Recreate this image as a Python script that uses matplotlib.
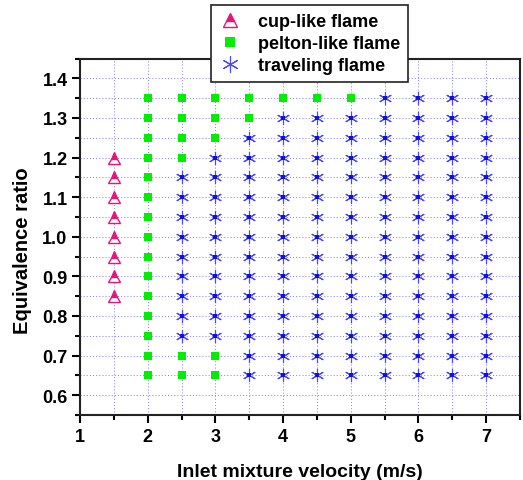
import matplotlib
matplotlib.use("Agg")
import matplotlib.pyplot as plt
from matplotlib.ticker import MultipleLocator

plt.rcParams['font.family'] = ['Liberation Sans', 'DejaVu Sans']
plt.rcParams['font.weight'] = 'bold'

# cup-like flame
cup_x = [1.5, 1.5, 1.5, 1.5, 1.5, 1.5, 1.5, 1.5]
cup_y = [0.85, 0.90, 0.95, 1.00, 1.05, 1.10, 1.15, 1.20]

# pelton-like flame (by column)
pelton_cols = {
    2.0: [0.65, 0.70, 0.75, 0.80, 0.85, 0.90, 0.95, 1.00, 1.05, 1.10, 1.15, 1.20, 1.25, 1.30, 1.35],
    2.5: [0.65, 0.70, 1.20, 1.25, 1.30, 1.35],
    3.0: [0.65, 0.70, 1.25, 1.30, 1.35],
    3.5: [1.30, 1.35],
    4.0: [1.35],
    4.5: [1.35],
    5.0: [1.35],
}

# traveling flame (by column)
travel_cols = {
    2.5: [0.75, 0.80, 0.85, 0.90, 0.95, 1.00, 1.05, 1.10, 1.15],
    3.0: [0.75, 0.80, 0.85, 0.90, 0.95, 1.00, 1.05, 1.10, 1.15, 1.20],
    3.5: [0.65, 0.70, 0.75, 0.80, 0.85, 0.90, 0.95, 1.00, 1.05, 1.10, 1.15, 1.20, 1.25],
    4.0: [0.65, 0.70, 0.75, 0.80, 0.85, 0.90, 0.95, 1.00, 1.05, 1.10, 1.15, 1.20, 1.25, 1.30],
    4.5: [0.65, 0.70, 0.75, 0.80, 0.85, 0.90, 0.95, 1.00, 1.05, 1.10, 1.15, 1.20, 1.25, 1.30],
    5.0: [0.65, 0.70, 0.75, 0.80, 0.85, 0.90, 0.95, 1.00, 1.05, 1.10, 1.15, 1.20, 1.25, 1.30],
    5.5: [0.65, 0.70, 0.75, 0.80, 0.85, 0.90, 0.95, 1.00, 1.05, 1.10, 1.15, 1.20, 1.25, 1.30, 1.35],
    6.0: [0.65, 0.70, 0.75, 0.80, 0.85, 0.90, 0.95, 1.00, 1.05, 1.10, 1.15, 1.20, 1.25, 1.30, 1.35],
    6.5: [0.65, 0.70, 0.75, 0.80, 0.85, 0.90, 0.95, 1.00, 1.05, 1.10, 1.15, 1.20, 1.25, 1.30, 1.35],
    7.0: [0.65, 0.70, 0.75, 0.80, 0.85, 0.90, 0.95, 1.00, 1.05, 1.10, 1.15, 1.20, 1.25, 1.30, 1.35],
}

labels = ['cup-like flame', 'pelton-like flame', 'traveling flame']

pel_x = [x for x, ys in pelton_cols.items() for _ in ys]
pel_y = [y for ys in pelton_cols.values() for y in ys]
tr_x = [x for x, ys in travel_cols.items() for _ in ys]
tr_y = [y for ys in travel_cols.values() for y in ys]

fig = plt.figure(figsize=(5.23, 4.81), dpi=100)
ax = fig.add_axes([80/523, 1-416/481, 440/523, (416-59.5)/481])

ax.set_xlim(1, 7.5)
ax.set_ylim(0.55, 1.45)
ax.xaxis.set_major_locator(MultipleLocator(1))
ax.xaxis.set_minor_locator(MultipleLocator(0.5))
ax.yaxis.set_major_locator(MultipleLocator(0.1))
ax.yaxis.set_minor_locator(MultipleLocator(0.05))
ax.grid(which='both', color='#8888ff', linestyle=(0, (1, 2)), linewidth=0.75)
ax.set_axisbelow(True)

h1, = ax.plot(cup_x, cup_y, linestyle='none', marker='^', markersize=8,
              color='#e8147a', markerfacecolor='#e8147a', markerfacecoloralt='white',
              fillstyle='top', markeredgewidth=1.0, label=labels[0])
h2, = ax.plot(pel_x, pel_y, linestyle='none', marker='s', markersize=6,
              color='#00ee00', markeredgewidth=0, label=labels[1])
h3, = ax.plot(tr_x, tr_y, linestyle='none', marker=(6, 2, 0), markersize=9.5,
              color='#4848ff', markeredgewidth=0.8, label=labels[2])
ax.plot(tr_x, tr_y, linestyle='none', marker='s', markersize=2.2,
        color='#1010e0', markeredgewidth=0)

for s in ax.spines.values():
    s.set_linewidth(1.5)
    s.set_color('#222222')
ax.tick_params(which='major', direction='out', length=6, width=1.5, labelsize=13, pad=3)
ax.tick_params(which='minor', direction='out', length=3.5, width=1.5)
for lab in ax.get_xticklabels() + ax.get_yticklabels():
    lab.set_fontweight('bold')

ax.set_xlabel('Inlet mixture velocity (m/s)', fontsize=14, fontweight='bold', labelpad=13)
ax.set_ylabel('Equivalence ratio', fontsize=14.5, fontweight='bold')
ax.yaxis.set_label_coords(-0.109, 0.463)

leg = fig.legend(handles=[h1, h2, h3], loc='upper left',
                 bbox_to_anchor=(211/523, 1-6/481), frameon=True, fancybox=False,
                 prop={'weight': 'bold', 'size': 13}, handlelength=1.2,
                 handletextpad=0.95, borderpad=0.45, labelspacing=0.28,
                 borderaxespad=0, markerscale=1.25)
leg.get_frame().set_edgecolor('#222222')
leg.get_frame().set_linewidth(1.2)
leg.get_frame().set_alpha(1)

fig.savefig('out.png', dpi=100)
